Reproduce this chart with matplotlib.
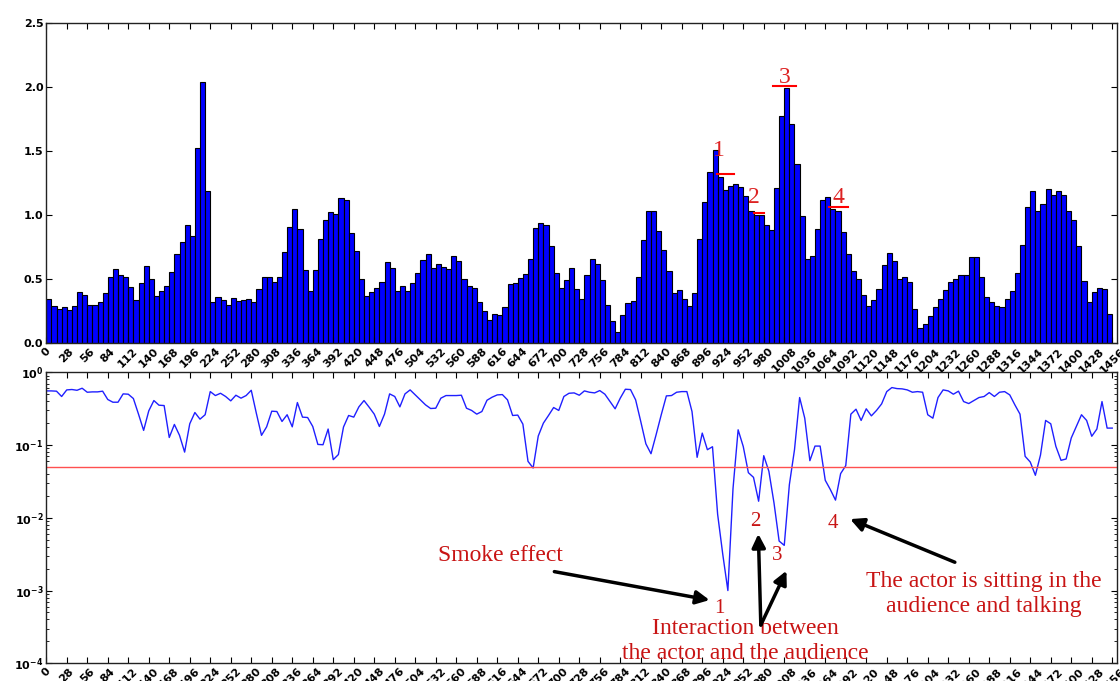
import numpy as np
import matplotlib
matplotlib.use("Agg")
import matplotlib.pyplot as plt
from matplotlib.ticker import FixedLocator, FixedFormatter, LogLocator, NullFormatter

# ---------------- data ----------------
bin_width = 7
bar_values = [
    0.345, 0.29, 0.27, 0.28, 0.26, 0.29, 0.40, 0.38, 0.30, 0.30,
    0.32, 0.39, 0.52, 0.58, 0.535, 0.52, 0.44, 0.34, 0.47, 0.60,
    0.50, 0.37, 0.41, 0.45, 0.555, 0.70, 0.79, 0.92, 0.84, 1.52,
    2.04, 1.19, 0.32, 0.36, 0.34, 0.30, 0.35, 0.33, 0.335, 0.345,
    0.32, 0.425, 0.52, 0.52, 0.48, 0.52, 0.71, 0.905, 1.05, 0.89,
    0.57, 0.41, 0.57, 0.81, 0.96, 1.02, 1.01, 1.135, 1.12, 0.86,
    0.72, 0.505, 0.37, 0.40, 0.43, 0.48, 0.63, 0.59, 0.41, 0.45,
    0.41, 0.47, 0.545, 0.65, 0.70, 0.59, 0.615, 0.595, 0.58, 0.68,
    0.645, 0.50, 0.445, 0.435, 0.32, 0.25, 0.18, 0.23, 0.22, 0.285,
    0.46, 0.47, 0.51, 0.54, 0.66, 0.90, 0.935, 0.92, 0.76, 0.545,
    0.435, 0.495, 0.585, 0.42, 0.345, 0.535, 0.66, 0.62, 0.49, 0.295,
    0.17, 0.085, 0.22, 0.315, 0.33, 0.515, 0.805, 1.03, 1.03, 0.875,
    0.73, 0.56, 0.39, 0.415, 0.345, 0.29, 0.39, 0.81, 1.105, 1.335,
    1.505, 1.295, 1.195, 1.23, 1.245, 1.215, 1.145, 1.03, 1.0, 1.0,
    0.92, 0.88, 1.21, 1.77, 1.99, 1.71, 1.40, 0.99, 0.655, 0.68,
    0.89, 1.12, 1.14, 1.05, 1.03, 0.87, 0.70, 0.56, 0.50, 0.375,
    0.29, 0.335, 0.425, 0.61, 0.705, 0.645, 0.50, 0.52, 0.48, 0.265,
    0.12, 0.15, 0.215, 0.28, 0.345, 0.415, 0.48, 0.50, 0.535, 0.535,
    0.67, 0.675, 0.52, 0.36, 0.32, 0.29, 0.285, 0.345, 0.405, 0.55,
    0.77, 1.065, 1.19, 1.03, 1.085, 1.20, 1.155, 1.19, 1.155, 1.03,
    0.96, 0.755, 0.485, 0.325, 0.40, 0.43, 0.42, 0.225,
]

p_values = [
    0.555, 0.555, 0.55, 0.465, 0.573, 0.58, 0.566, 0.604, 0.532, 0.538,
    0.538, 0.55, 0.423, 0.388, 0.388, 0.505, 0.50, 0.436, 0.266, 0.159,
    0.295, 0.409, 0.353, 0.349, 0.127, 0.192, 0.136, 0.080, 0.196, 0.28,
    0.227, 0.261, 0.543, 0.479, 0.515, 0.465, 0.405, 0.484, 0.441, 0.479,
    0.566, 0.272, 0.136, 0.178, 0.292, 0.289, 0.211, 0.261, 0.178, 0.384,
    0.242, 0.239, 0.18, 0.102, 0.101, 0.166, 0.063, 0.074, 0.177, 0.255,
    0.242, 0.335, 0.409, 0.332, 0.266, 0.18, 0.266, 0.505, 0.465, 0.335,
    0.505, 0.573, 0.489, 0.418, 0.357, 0.318, 0.321, 0.441, 0.479, 0.479,
    0.479, 0.484, 0.321, 0.299, 0.266, 0.289, 0.413, 0.455, 0.489, 0.494,
    0.418, 0.255, 0.258, 0.194, 0.0597, 0.0484, 0.133, 0.2, 0.255, 0.328,
    0.299, 0.465, 0.515, 0.521, 0.484, 0.555, 0.532, 0.521, 0.561, 0.5,
    0.396, 0.315, 0.441, 0.585, 0.579, 0.418, 0.211, 0.104, 0.076, 0.139,
    0.261, 0.474, 0.479, 0.532, 0.543, 0.543, 0.289, 0.0678, 0.146, 0.0863,
    0.0948, 0.0112, 0.00316, 0.001, 0.0251, 0.162, 0.0955, 0.0417, 0.036, 0.0169,
    0.0714, 0.0436, 0.016, 0.00479, 0.00418, 0.0286, 0.0863, 0.45, 0.234, 0.061,
    0.0968, 0.0968, 0.0328, 0.0244, 0.0175, 0.0405, 0.0521, 0.266, 0.311, 0.218,
    0.315, 0.252, 0.299, 0.368, 0.543, 0.617, 0.597, 0.592, 0.573, 0.532,
    0.543, 0.532, 0.261, 0.234, 0.45, 0.573, 0.555, 0.5, 0.55, 0.396,
    0.372, 0.409, 0.45, 0.465, 0.526, 0.465, 0.532, 0.543, 0.489, 0.357,
    0.266, 0.07, 0.0585, 0.0384, 0.073, 0.218, 0.196, 0.0959, 0.0617, 0.0643,
    0.125, 0.18, 0.261, 0.218, 0.132, 0.166, 0.396, 0.171, 0.171,
]

threshold = 0.05
x_ticks = list(range(0, 1457, 28))
y_ticks_top = [0.0, 0.5, 1.0, 1.5, 2.0, 2.5]
y_ticks_bottom = [1e-4, 1e-3, 1e-2, 1e-1, 1e0]
y_labels_bottom = [r"$\mathbf{10^{-4}}$", r"$\mathbf{10^{-3}}$", r"$\mathbf{10^{-2}}$",
                   r"$\mathbf{10^{-1}}$", r"$\mathbf{10^{0}}$"]

bar_x = np.arange(len(bar_values)) * bin_width
line_x = np.arange(len(p_values)) * bin_width

# ---------------- figure ----------------
fig = plt.figure(figsize=(11.2, 6.81), dpi=100)
ax1 = fig.add_axes([0.0413, 0.4959, 0.9557, 0.4708])
ax2 = fig.add_axes([0.0413, 0.026, 0.9557, 0.4273])

ax1.bar(bar_x, bar_values, width=bin_width, align="edge", color="#0000ff",
        edgecolor="black", linewidth=0.8)
ax1.set_xlim(0, 1462)
ax1.set_ylim(0, 2.5)
ax1.set_yticks(y_ticks_top)
ax1.set_yticklabels([f"{v:.1f}" for v in y_ticks_top])

ax2.plot(line_x, p_values, color="#1f1fff", lw=1.0)
ax2.axhline(threshold, color="#ff5050", lw=1.0)
ax2.set_yscale("log")
ax2.set_xlim(0, 1462)
ax2.set_ylim(1e-4, 1)
ax2.yaxis.set_major_locator(FixedLocator(y_ticks_bottom))
ax2.yaxis.set_major_formatter(FixedFormatter(y_labels_bottom))
ax2.yaxis.set_minor_locator(LogLocator(base=10, subs=np.arange(2, 10)))
ax2.yaxis.set_minor_formatter(NullFormatter())

for ax in (ax1, ax2):
    ax.set_xticks(x_ticks)
    ax.set_xticklabels([str(t) for t in x_ticks], rotation=45, ha="center")
    ax.tick_params(which="major", direction="in", top=True, right=True,
                   length=4, width=0.8, labelsize=8, pad=2)
    ax.tick_params(which="minor", direction="in", top=True, right=True,
                   length=2, width=0.6)
    for lab in ax.get_xticklabels() + ax.get_yticklabels():
        lab.set_fontweight("bold")
    for sp in ax.spines.values():
        sp.set_color("#222222")
        sp.set_linewidth(1.0)

# ---------------- top annotations ----------------
top_red = "#dd2222"
serif = "Liberation Serif"
ax1.text(919, 1.507, "1", color=top_red, fontsize=17, family=serif, ha="center", va="center")
ax1.plot([916, 940], [1.318, 1.318], color="red", lw=1.5)
ax1.text(967, 1.133, "2", color=top_red, fontsize=17, family=serif, ha="center", va="center")
ax1.plot([966, 981], [1.019, 1.019], color="red", lw=1.5)
ax1.text(1009, 2.073, "3", color=top_red, fontsize=17, family=serif, ha="center", va="center")
ax1.plot([992, 1024], [2.005, 2.005], color="red", lw=1.5)
ax1.text(1082, 1.133, "4", color=top_red, fontsize=17, family=serif, ha="center", va="center")
ax1.plot([1069, 1095], [1.066, 1.066], color="red", lw=1.5)

# ---------------- bottom annotations ----------------
txt_red = "#c81414"
arrow_kw = dict(arrowstyle="-|>", color="black", lw=2.5, shrinkA=0, shrinkB=0,
                mutation_scale=20)
ax2.text(620, 3.08e-3, "Smoke effect", color=txt_red, fontsize=17, family=serif,
         ha="center", va="center")
ax2.text(955, 2.03e-4, "Interaction between\nthe actor and the audience", color=txt_red,
         fontsize=17, family=serif, ha="center", va="center", multialignment="center")
ax2.text(1281, 8.97e-4, "The actor is sitting in the\naudience and talking", color=txt_red,
         fontsize=17, family=serif, ha="center", va="center", multialignment="center")
ax2.text(920, 5.6e-4, "1", color=txt_red, fontsize=15, family=serif, ha="center", va="center")
ax2.text(968, 8.9e-3, "2", color=txt_red, fontsize=15, family=serif, ha="center", va="center")
ax2.text(998, 3.01e-3, "3", color=txt_red, fontsize=15, family=serif, ha="center", va="center")
ax2.text(1075, 8.4e-3, "4", color=txt_red, fontsize=15, family=serif, ha="center", va="center")

ax2.annotate("", xy=(906, 7.4e-4), xytext=(694, 1.82e-3), arrowprops=arrow_kw)
ax2.annotate("", xy=(972.6, 6.0e-3), xytext=(976, 3.36e-4), arrowprops=arrow_kw)
ax2.annotate("", xy=(1011, 1.87e-3), xytext=(976, 3.36e-4), arrowprops=arrow_kw)
ax2.annotate("", xy=(1098, 9.6e-3), xytext=(1241, 2.45e-3), arrowprops=arrow_kw)

fig.savefig("out.png", dpi=100)
